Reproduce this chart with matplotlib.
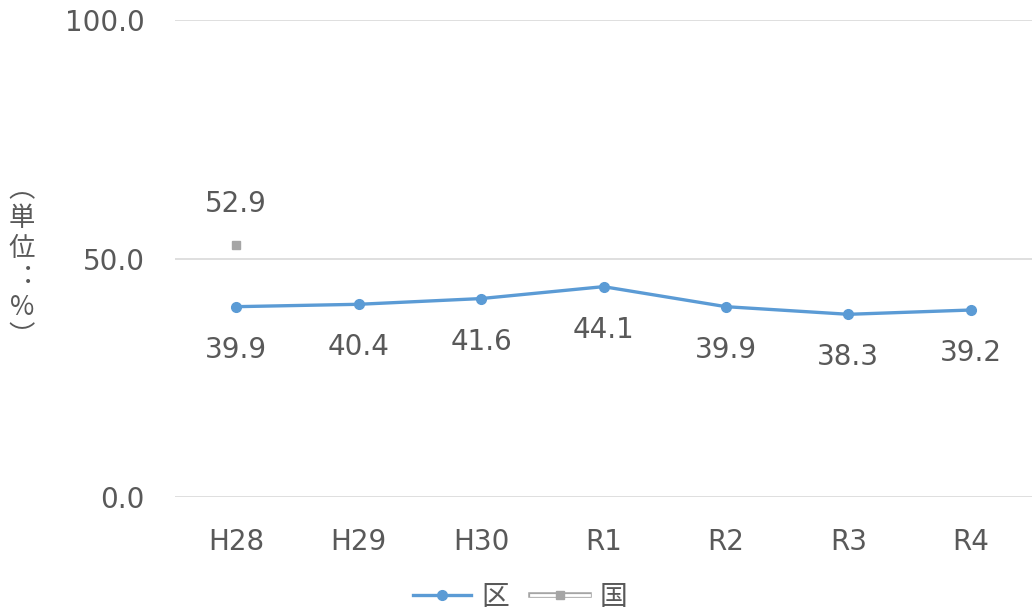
import numpy as np
import matplotlib
matplotlib.use("Agg")
import matplotlib.pyplot as plt
from matplotlib.lines import Line2D
from matplotlib.legend_handler import HandlerTuple

plt.rcParams['font.family'] = ['DejaVu Sans', 'Noto Sans CJK JP']
cjk = ['Noto Sans CJK JP', 'DejaVu Sans']

# Data
years = ["H28", "H29", "H30", "R1", "R2", "R3", "R4"]
ward = [39.9, 40.4, 41.6, 44.1, 39.9, 38.3, 39.2]
nation = [52.9, np.nan, np.nan, np.nan, np.nan, np.nan, np.nan]
yticks = [0.0, 50.0, 100.0]

text_color = "#595959"
blue = "#5B9BD5"
gray = "#A5A5A5"
grid_color = "#D9D9D9"
fs = 20

fig = plt.figure(figsize=(10.32, 6.14), dpi=100)
ax = fig.add_axes([175 / 1032, 1 - 497 / 614, 857 / 1032, 477 / 614])

x = np.arange(len(years))
ax.plot(x, ward, color=blue, lw=2.4, marker="o", ms=7, zorder=3)
ax.plot(x, nation, color=gray, lw=0, marker="s", ms=6, zorder=3)

# Value labels
for xi, v in zip(x, ward):
    ax.annotate(f"{v:.1f}", (xi, v), xytext=(0, -31), textcoords="offset points",
                ha="center", va="center", fontsize=fs, color=text_color)
for xi, v in zip(x, nation):
    if not np.isnan(v):
        ax.annotate(f"{v:.1f}", (xi, v), xytext=(0, 29), textcoords="offset points",
                    ha="center", va="center", fontsize=fs, color=text_color)

ax.set_xlim(-0.5, len(years) - 0.5)
ax.set_ylim(0, 100)
ax.set_yticks(yticks)
ax.set_yticklabels([f"{t:.1f}" for t in yticks])
ax.set_xticks(x)
ax.set_xticklabels(years)
ax.tick_params(axis="both", length=0, labelsize=fs, labelcolor=text_color)
ax.tick_params(axis="y", pad=22)
ax.tick_params(axis="x", pad=22)
ax.yaxis.grid(True, color=grid_color, lw=1.2)
ax.set_axisbelow(True)
for s in ax.spines.values():
    s.set_visible(False)

# Vertical unit label
fig.text(22 / 1032, 1 - 263 / 614, "︵\n単\n位\n︓\n%\n︶", ha="center", va="center",
         fontsize=19, color=text_color, linespacing=1.12, family=cjk)

# Legend
h_ward = Line2D([], [], color=blue, lw=2.4, marker="o", ms=7)
h_nat = (Line2D([], [], color=gray, lw=4),
         Line2D([], [], color="white", lw=2),
         Line2D([], [], color=gray, lw=0, marker="s", ms=6))
fig.legend([h_ward, h_nat], ["区", "国"], loc="center", bbox_to_anchor=(520 / 1032, 1 - 597 / 614),
           ncol=2, frameon=False, labelcolor=text_color,
           prop={'family': cjk, 'size': fs},
           handler_map={tuple: HandlerTuple(ndivide=1)},
           handlelength=2.1, handletextpad=0.35, columnspacing=0.8)

fig.savefig("out.png", dpi=100)
